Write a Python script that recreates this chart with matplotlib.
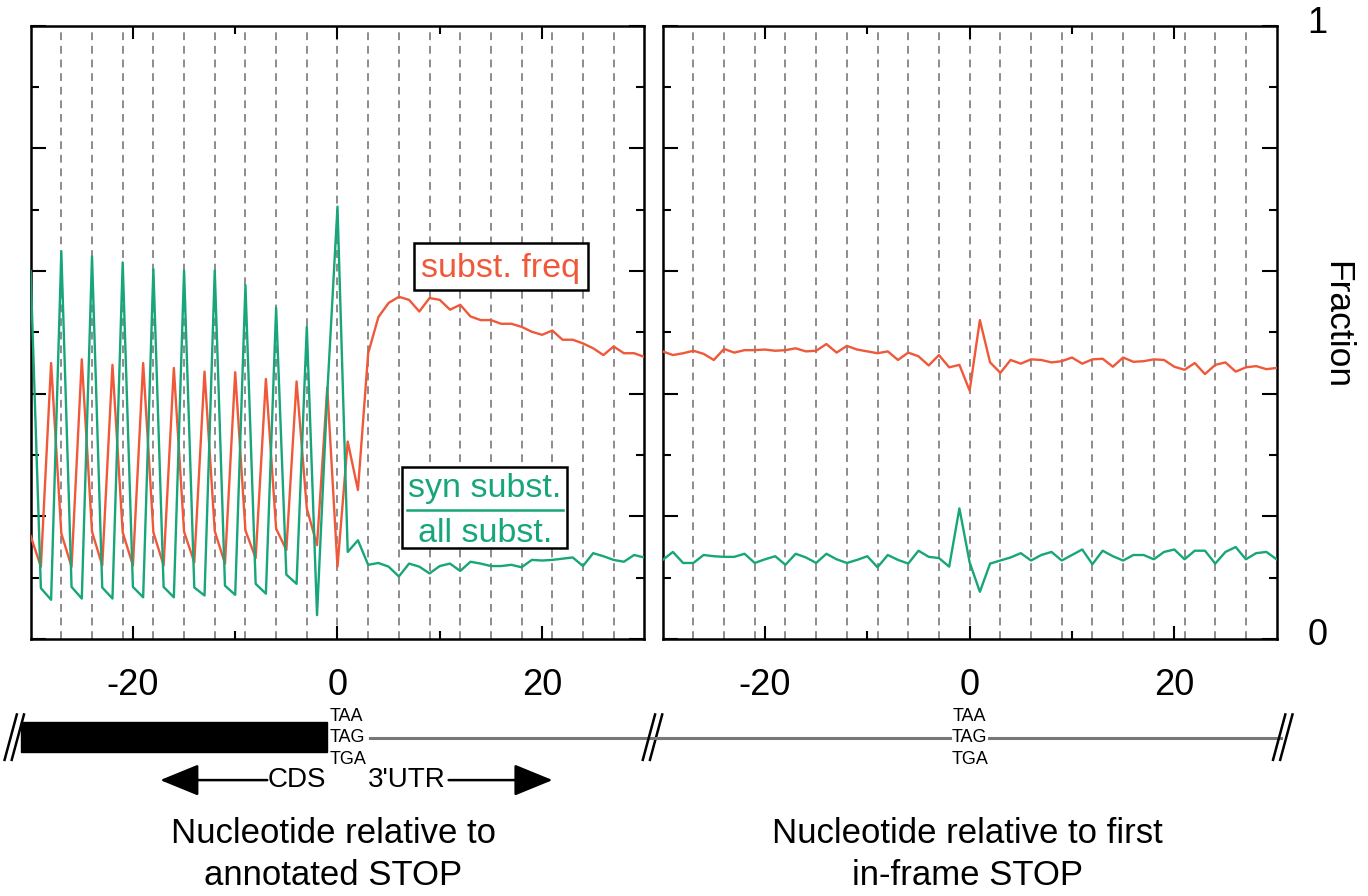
import numpy as np
import matplotlib
matplotlib.use("Agg")
import matplotlib.pyplot as plt
from matplotlib.patches import Rectangle

plt.rcParams["font.family"] = ["Liberation Sans", "DejaVu Sans"]

RED = "#f0583a"
GREEN = "#17a57a"

# nucleotide position relative to the STOP codon
pos = np.arange(-30, 31)

# left panel: relative to annotated STOP
left_freq = [0.168, 0.118, 0.450, 0.172, 0.118, 0.456, 0.175, 0.120, 0.447, 0.174,
             0.120, 0.450, 0.174, 0.120, 0.442, 0.175, 0.125, 0.436, 0.176, 0.123,
             0.435, 0.177, 0.132, 0.424, 0.180, 0.145, 0.420, 0.213, 0.153, 0.410,
             0.118,
             0.322, 0.243, 0.466, 0.525, 0.548, 0.558, 0.553, 0.534, 0.556, 0.553,
             0.537, 0.545, 0.526, 0.520, 0.520, 0.514, 0.514, 0.509, 0.501, 0.496,
             0.503, 0.488, 0.488, 0.482, 0.474, 0.463, 0.477, 0.466, 0.466, 0.460]
left_syn = [0.600, 0.083, 0.064, 0.632, 0.085, 0.066, 0.624, 0.084, 0.066, 0.614,
            0.085, 0.068, 0.603, 0.085, 0.068, 0.601, 0.084, 0.071, 0.601, 0.087,
            0.072, 0.577, 0.090, 0.074, 0.540, 0.105, 0.090, 0.509, 0.039, 0.400,
            0.705,
            0.142, 0.161, 0.121, 0.124, 0.118, 0.102, 0.123, 0.118, 0.107, 0.119,
            0.123, 0.111, 0.126, 0.123, 0.119, 0.119, 0.121, 0.117, 0.129, 0.128,
            0.129, 0.131, 0.133, 0.119, 0.140, 0.135, 0.129, 0.126, 0.137, 0.133]

# right panel: relative to first in-frame STOP in the 3'UTR
right_freq = [0.469, 0.463, 0.466, 0.470, 0.465, 0.455, 0.473, 0.467, 0.471, 0.471,
              0.472, 0.470, 0.471, 0.474, 0.469, 0.470, 0.481, 0.467, 0.478, 0.472,
              0.469, 0.466, 0.469, 0.455, 0.467, 0.461, 0.446, 0.463, 0.443, 0.447,
              0.405,
              0.520, 0.451, 0.434, 0.455, 0.449, 0.456, 0.455, 0.451, 0.453, 0.459,
              0.449, 0.456, 0.457, 0.444, 0.459, 0.452, 0.453, 0.456, 0.455, 0.444,
              0.439, 0.450, 0.432, 0.447, 0.451, 0.436, 0.443, 0.445, 0.440, 0.442]
right_syn = [0.129, 0.142, 0.124, 0.124, 0.137, 0.135, 0.134, 0.134, 0.139, 0.124,
             0.130, 0.135, 0.121, 0.139, 0.133, 0.124, 0.139, 0.130, 0.124, 0.129,
             0.135, 0.117, 0.137, 0.129, 0.123, 0.144, 0.134, 0.132, 0.118, 0.213,
             0.125,
             0.077, 0.123, 0.128, 0.133, 0.140, 0.128, 0.137, 0.142, 0.128, 0.137,
             0.146, 0.122, 0.144, 0.135, 0.128, 0.137, 0.137, 0.130, 0.142, 0.146,
             0.130, 0.144, 0.144, 0.123, 0.142, 0.150, 0.130, 0.140, 0.142, 0.130]

codon_lines = np.arange(-27, 28, 3)
tick_labels = [-20, 0, 20]

fig = plt.figure(figsize=(13.68, 8.96), dpi=100)
ax1 = fig.add_axes([0.0224, 0.2868, 0.4486, 0.6845])
ax2 = fig.add_axes([0.4844, 0.2868, 0.4488, 0.6845])

for ax, freq, syn in [(ax1, left_freq, left_syn), (ax2, right_freq, right_syn)]:
    for x in codon_lines:
        ax.axvline(x, color="#8c8c8c", lw=1.4, ls=(0, (4, 3)), zorder=1)
    ax.plot(pos, freq, color=RED, lw=1.7, zorder=3)
    ax.plot(pos, syn, color=GREEN, lw=1.7, zorder=3)
    ax.set_xlim(-30, 30)
    ax.set_ylim(0, 1)
    ax.set_xticks(tick_labels)
    ax.set_xticks([-10, 10], minor=True)
    ax.set_xticklabels([str(t) for t in tick_labels])
    ax.set_yticks(np.arange(0, 1.01, 0.2))
    ax.set_yticks(np.arange(0.1, 1.0, 0.2), minor=True)
    ax.tick_params(axis="both", which="both", direction="in", top=True, right=True,
                   width=1.5, colors="black")
    ax.tick_params(axis="x", which="major", length=9.5, labelsize=26, pad=21)
    ax.tick_params(axis="x", which="minor", length=5.5)
    ax.tick_params(axis="y", which="major", length=10.5, labelleft=False)
    ax.tick_params(axis="y", which="minor", length=5.5)
    for sp in ax.spines.values():
        sp.set_linewidth(1.8)

# labels inside the left panel
ax1.add_patch(Rectangle((7.5, 0.569), 17.0, 0.077, fc="white", ec="black", lw=1.8, zorder=4))
ax1.text(15.9, 0.591, "subst. freq", color=RED, fontsize=24.5, ha="center", va="baseline",
         zorder=5)
ax1.add_patch(Rectangle((6.27, 0.148), 16.17, 0.132, fc="white", ec="black", lw=1.8, zorder=4))
ax1.text(14.4, 0.232, "syn subst.", color=GREEN, fontsize=24.5, ha="center", va="baseline",
         zorder=5)
ax1.text(14.4, 0.158, "all subst.", color=GREEN, fontsize=24.5, ha="center", va="baseline",
         zorder=5)
ax1.plot([6.8, 22.0], [0.21, 0.21], color=GREEN, lw=1.8, zorder=5)

# right-hand y annotation
ax2.text(1.066, 1.004, "1", transform=ax2.transAxes, fontsize=26, ha="center", va="center")
ax2.text(1.066, 0.006, "0", transform=ax2.transAxes, fontsize=26, ha="center", va="center")
ax2.text(1.098, 0.512, "Fraction", transform=ax2.transAxes, fontsize=25.5, rotation=-90,
         ha="center", va="center")

# gene schematic below the axes
def breaks(ax, x):
    for dx in (-0.35, 0.35):
        ax.plot([x + dx - 0.6, x + dx + 0.6], [-0.197, -0.123], color="black", lw=1.8,
                clip_on=False)

def stops(ax, x, ha):
    for y, s in [(-0.127, "TAA"), (-0.161, "TAG"), (-0.196, "TGA")]:
        ax.text(x, y, s, fontsize=13, ha=ha, va="center", clip_on=False)

ax1.add_patch(Rectangle((-30.9, -0.184), 29.9, 0.049, fc="black", ec="black", clip_on=False))
ax1.plot([3.2, 31.6], [-0.161, -0.161], color="#777777", lw=2.2, clip_on=False)
stops(ax1, -0.8, "left")
breaks(ax1, -31.6)
breaks(ax1, 30.8)

ax2.plot([-30.9, -1.9], [-0.161, -0.161], color="#777777", lw=2.2, clip_on=False)
ax2.plot([1.9, 30.4], [-0.161, -0.161], color="#777777", lw=2.2, clip_on=False)
stops(ax2, 0, "center")
breaks(ax2, 30.6)

arrow = dict(arrowstyle="-|>,head_length=1.1,head_width=0.45", color="black", lw=1.8,
             mutation_scale=22)
ax1.annotate("", xy=(-17.6, -0.23), xytext=(-6.6, -0.23), arrowprops=arrow,
             annotation_clip=False)
ax1.annotate("", xy=(21.3, -0.23), xytext=(10.6, -0.23), arrowprops=arrow,
             annotation_clip=False)
ax1.text(-4.0, -0.23, "CDS", fontsize=20, ha="center", va="center", clip_on=False)
ax1.text(6.8, -0.23, "3'UTR", fontsize=20, ha="center", va="center", clip_on=False)

ax1.text(-0.4, -0.317, "Nucleotide relative to", fontsize=25, ha="center", va="center")
ax1.text(-0.4, -0.386, "annotated STOP", fontsize=25, ha="center", va="center")
ax2.text(-0.2, -0.317, "Nucleotide relative to first", fontsize=25, ha="center", va="center")
ax2.text(-0.2, -0.386, "in-frame STOP", fontsize=25, ha="center", va="center")

fig.savefig("out.png", dpi=100)
